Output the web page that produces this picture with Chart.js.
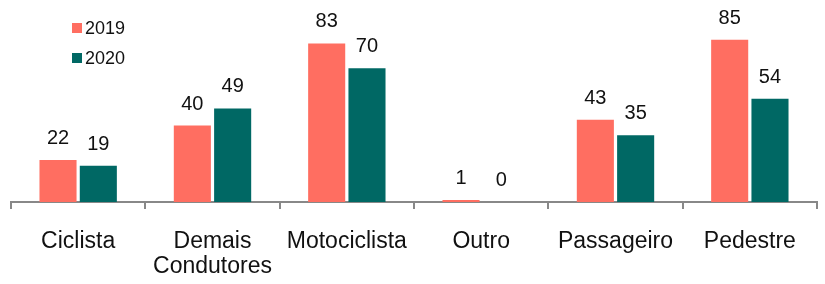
<!DOCTYPE html>
<html>
<head>
<meta charset="utf-8">
<style>
  html, body { margin: 0; padding: 0; background: #fff; }
  #wrap { width: 825px; height: 284px; }
</style>
<script src="https://cdn.jsdelivr.net/npm/chart.js@4"></script>
</head>
<body>
<div id="wrap"><canvas id="chart" width="825" height="284"></canvas></div>
<script>
// data
const categories = ['Ciclista', ['Demais', 'Condutores'], 'Motociclista', 'Outro', 'Passageiro', 'Pedestre'];
const values2019 = [22, 40, 83, 1, 43, 85];
const values2020 = [19, 49, 70, 0, 35, 54];
const seriesNames = ['2019', '2020'];
const colors = ['#FF6E61', '#006864'];

// values printed above every bar
const valueLabels = {
    id: 'valueLabels',
    afterDatasetsDraw(chart) {
        const ctx = chart.ctx;
        ctx.save();
        ctx.font = '20px "Liberation Sans", Arial, sans-serif';
        ctx.fillStyle = '#111';
        ctx.textAlign = 'center';
        ctx.textBaseline = 'alphabetic';
        chart.data.datasets.forEach((ds, i) => {
            chart.getDatasetMeta(i).data.forEach((bar, j) => {
                ctx.fillText(String(ds.data[j]), bar.x, bar.y - 16);
            });
        });
        ctx.restore();
    }
};

// small legend in the top-left corner
const cornerLegend = {
    id: 'cornerLegend',
    afterDraw(chart) {
        const ctx = chart.ctx;
        ctx.save();
        ctx.font = '18px "Liberation Sans", Arial, sans-serif';
        ctx.textBaseline = 'middle';
        chart.data.datasets.forEach((ds, i) => {
            const y = 28 + i * 30;
            ctx.fillStyle = ds.backgroundColor;
            ctx.fillRect(72, y - 5, 10, 10);
            ctx.fillStyle = '#111';
            ctx.fillText(ds.label, 85, y + 1);
        });
        ctx.restore();
    }
};

new Chart(document.getElementById('chart'), {
    type: 'bar',
    data: {
        labels: categories,
        datasets: [{
            label: seriesNames[0],
            data: values2019,
            backgroundColor: colors[0]
        }, {
            label: seriesNames[1],
            data: values2020,
            backgroundColor: colors[1]
        }]
    },
    options: {
        responsive: false,
        animation: false,
        layout: {
            padding: { left: 11, right: 8, top: 11, bottom: 0 }
        },
        datasets: {
            bar: {
                categoryPercentage: 0.6,
                barPercentage: 0.92
            }
        },
        scales: {
            x: {
                offset: true,
                afterFit(scale) { scale.height = 82; },
                grid: {
                    display: true,
                    drawOnChartArea: false,
                    offset: true,
                    color: '#888',
                    lineWidth: 2,
                    tickLength: 7
                },
                border: { display: true, color: '#888', width: 2 },
                ticks: {
                    color: '#111',
                    padding: 20,
                    font: { family: '"Liberation Sans", Arial, sans-serif', size: 23, lineHeight: 1.1 }
                }
            },
            y: {
                display: false,
                min: 0,
                max: 100
            }
        },
        plugins: {
            legend: { display: false },
            tooltip: { enabled: false }
        }
    },
    plugins: [valueLabels, cornerLegend]
});
</script>
</body>
</html>
